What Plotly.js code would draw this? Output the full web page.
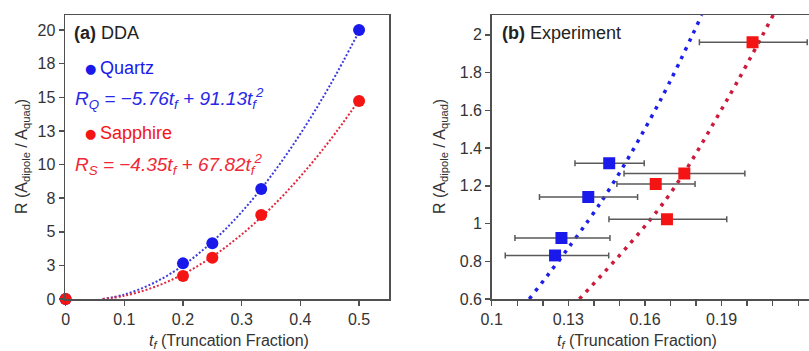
<!DOCTYPE html>
<html><head><meta charset="utf-8">
<script src="https://cdn.plot.ly/plotly-3.0.1.min.js"></script>
<style>html,body{margin:0;padding:0;background:#fff}#c{width:809px;height:351px}</style>
</head><body><div id="c"></div>
<script>
// Panel (a) DDA
const ddaT = [0, 0.2, 0.25, 0.3333, 0.5];
const ddaQuartz = [0, 2.65, 4.14, 8.18, 20.0];
const ddaSapphire = [0, 1.71, 3.07, 6.25, 14.72];
const fitT = [0.063, 0.1, 0.15, 0.2, 0.25, 0.3, 0.35, 0.4, 0.45, 0.5];
const fitQuartz = [0, 0.33, 1.19, 2.49, 4.26, 6.47, 9.15, 12.28, 15.86, 19.9];
const fitSapphire = [0, 0.24, 0.87, 1.84, 3.15, 4.80, 6.78, 9.11, 11.78, 14.78];
const aYTickVals = [0, 2.5, 5, 7.5, 10, 12.5, 15, 17.5, 20];
const aYTickText = ['0', '3', '5', '8', '10', '13', '15', '18', '20'];
const aXTickVals = [0, 0.1, 0.2, 0.3, 0.4, 0.5];
const aXTickText = ['0', '0.1', '0.2', '0.3', '0.4', '0.5'];

// Panel (b) Experiment
const expQuartzT = [0.146, 0.1378, 0.1273, 0.1248];
const expQuartzR = [1.319, 1.141, 0.923, 0.831];
const expQuartzErrPlus = [0.0137, 0.0193, 0.019, 0.021];
const expQuartzErrMinus = [0.0134, 0.0191, 0.0182, 0.0195];
const expSapphireT = [0.2021, 0.1754, 0.1642, 0.1686];
const expSapphireR = [1.961, 1.265, 1.209, 1.022];
const expSapphireErrPlus = [0.0214, 0.0237, 0.0154, 0.0234];
const expSapphireErrMinus = [0.0208, 0.0236, 0.0152, 0.0227];
const lineQuartzT = [0.1147, 0.1431, 0.1659, 0.1822];
const lineQuartzR = [0.6, 1.12, 1.65, 2.105];
const lineSapphireT = [0.1343, 0.1678, 0.192, 0.2102];
const lineSapphireR = [0.6, 1.12, 1.6525, 2.105];

const FONT = 'Liberation Sans, Arial, sans-serif';
const BLUE = 'rgb(25,25,235)';
const RED = 'rgb(245,20,20)';
const W = 809, TOP = 15, BOT = 299;
const px = x => x / W;
const py = y => (BOT - y) / (BOT - TOP);
const AX = '#505050';

const traces = [
  {x: fitT, y: fitQuartz, xaxis: 'x', yaxis: 'y', mode: 'lines', line: {shape: 'spline', color: 'rgb(60,60,220)', width: 2, dash: '2px,2px'}, hoverinfo: 'skip'},
  {x: fitT, y: fitSapphire, xaxis: 'x', yaxis: 'y', mode: 'lines', line: {shape: 'spline', color: 'rgb(225,40,60)', width: 2, dash: '2px,2px'}, hoverinfo: 'skip'},
  {x: ddaT, y: ddaQuartz, xaxis: 'x', yaxis: 'y', mode: 'markers', marker: {symbol: 'circle', size: 12, color: BLUE}, cliponaxis: false},
  {x: ddaT, y: ddaSapphire, xaxis: 'x', yaxis: 'y', mode: 'markers', marker: {symbol: 'circle', size: 12, color: RED}, cliponaxis: false},
  {x: lineQuartzT, y: lineQuartzR, xaxis: 'x2', yaxis: 'y2', mode: 'lines', line: {shape: 'spline', color: 'rgb(30,30,235)', width: 3.5, dash: '3.5px,6px'}},
  {x: lineSapphireT, y: lineSapphireR, xaxis: 'x2', yaxis: 'y2', mode: 'lines', line: {shape: 'spline', color: 'rgb(205,25,60)', width: 3.5, dash: '3.5px,6px'}},
  {x: expQuartzT, y: expQuartzR, xaxis: 'x2', yaxis: 'y2', mode: 'markers', marker: {symbol: 'square', size: 12, color: BLUE},
   error_x: {type: 'data', symmetric: false, array: expQuartzErrPlus, arrayminus: expQuartzErrMinus, color: 'rgb(90,90,90)', thickness: 1.5, width: 3}},
  {x: expSapphireT, y: expSapphireR, xaxis: 'x2', yaxis: 'y2', mode: 'markers', marker: {symbol: 'square', size: 12, color: RED},
   error_x: {type: 'data', symmetric: false, array: expSapphireErrPlus, arrayminus: expSapphireErrMinus, color: 'rgb(90,90,90)', thickness: 1.5, width: 3}}
];

const axBase = {showline: true, linecolor: AX, linewidth: 1.5, ticks: 'outside', ticklen: 5, tickwidth: 1.5, tickcolor: AX,
  showgrid: false, zeroline: false, tickfont: {family: FONT, size: 16, color: '#333'}};

const layout = {
  width: 809, height: 351, showlegend: false,
  margin: {l: 0, r: 0, t: TOP, b: 351 - BOT},
  paper_bgcolor: '#fff', plot_bgcolor: '#fff',
  xaxis: Object.assign({}, axBase, {domain: [px(65), px(389)], range: [-0.001, 0.551], tickmode: 'array', tickvals: aXTickVals, ticktext: aXTickText, mirror: true, anchor: 'y'}),
  yaxis: Object.assign({}, axBase, {domain: [0, 1], range: [0, 21.12], tickmode: 'array', tickvals: aYTickVals, ticktext: aYTickText, mirror: true, anchor: 'x'}),
  xaxis2: Object.assign({}, axBase, {domain: [px(491.7), 1], range: [0.1, 0.2242], tick0: 0.1, dtick: 0.03, mirror: true, anchor: 'y2',
    minor: {dtick: 0.01, tick0: 0.1, ticks: 'outside', ticklen: 5, tickwidth: 1.5, tickcolor: AX, showgrid: false}}),
  yaxis2: Object.assign({}, axBase, {domain: [0, 1], range: [0.6, 2.105], tick0: 0.6, dtick: 0.2, mirror: false, anchor: 'x2'}),
  annotations: [
    {xref: 'paper', yref: 'paper', x: px(72), y: py(33), xanchor: 'left', yanchor: 'middle', showarrow: false,
     text: '<b>(a)</b> DDA', font: {family: FONT, size: 18, color: '#222'}},
    {xref: 'paper', yref: 'paper', x: px(90), y: py(68), xanchor: 'center', yanchor: 'middle', showarrow: false,
     text: '●', font: {family: 'DejaVu Sans, sans-serif', size: 13, color: BLUE}},
    {xref: 'paper', yref: 'paper', x: px(98), y: py(68), xanchor: 'left', yanchor: 'middle', showarrow: false,
     text: 'Quartz', font: {family: FONT, size: 18, color: BLUE}},
    {xref: 'paper', yref: 'paper', x: px(73), y: py(98), xanchor: 'left', yanchor: 'middle', showarrow: false,
     text: '<i>R<sub>Q</sub> = −5.76t<sub>f</sub> + 91.13t<sub>f</sub><sup>2</sup></i>', font: {family: FONT, size: 19, color: 'rgb(40,40,230)'}},
    {xref: 'paper', yref: 'paper', x: px(90), y: py(133), xanchor: 'center', yanchor: 'middle', showarrow: false,
     text: '●', font: {family: 'DejaVu Sans, sans-serif', size: 13, color: RED}},
    {xref: 'paper', yref: 'paper', x: px(98), y: py(133), xanchor: 'left', yanchor: 'middle', showarrow: false,
     text: 'Sapphire', font: {family: FONT, size: 18, color: RED}},
    {xref: 'paper', yref: 'paper', x: px(73), y: py(164), xanchor: 'left', yanchor: 'middle', showarrow: false,
     text: '<i>R<sub>S</sub> = −4.35t<sub>f</sub> + 67.82t<sub>f</sub><sup>2</sup></i>', font: {family: FONT, size: 19, color: 'rgb(240,40,55)'}},
    {xref: 'paper', yref: 'paper', x: px(500), y: py(33), xanchor: 'left', yanchor: 'middle', showarrow: false,
     text: '<b>(b)</b> Experiment', font: {family: FONT, size: 18, color: '#222'}},
    {xref: 'paper', yref: 'paper', x: px(22), y: py(157), xanchor: 'center', yanchor: 'middle', textangle: -90, showarrow: false,
     text: 'R (A<sub>dipole</sub> / A<sub>quad</sub>)', font: {family: FONT, size: 16, color: '#333'}},
    {xref: 'paper', yref: 'paper', x: px(440), y: py(157), xanchor: 'center', yanchor: 'middle', textangle: -90, showarrow: false,
     text: 'R (A<sub>dipole</sub> / A<sub>quad</sub>)', font: {family: FONT, size: 16, color: '#333'}},
    {xref: 'paper', yref: 'paper', x: px(229), y: py(341), xanchor: 'center', yanchor: 'middle', showarrow: false,
     text: '<i>t<sub>f</sub></i> (Truncation Fraction)', font: {family: FONT, size: 16, color: '#333'}},
    {xref: 'paper', yref: 'paper', x: px(637), y: py(341), xanchor: 'center', yanchor: 'middle', showarrow: false,
     text: '<i>t<sub>f</sub></i> (Truncation Fraction)', font: {family: FONT, size: 16, color: '#333'}}
  ]
};

Plotly.newPlot('c', traces, layout, {staticPlot: true, displayModeBar: false});
</script></body></html>
